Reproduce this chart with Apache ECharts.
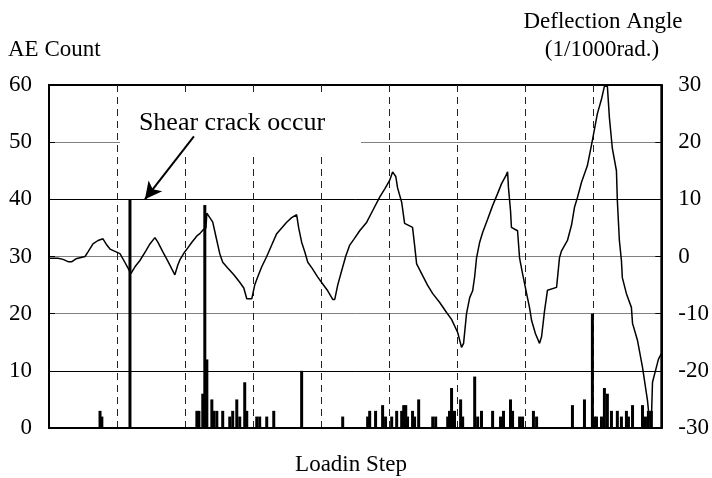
<!DOCTYPE html>
<html>
<head>
<meta charset="utf-8">
<script src="https://cdn.jsdelivr.net/npm/echarts@6/dist/echarts.min.js"></script>
<style>html,body{margin:0;padding:0;background:#fff}#c{width:712px;height:478px}</style>
</head>
<body>
<div id="c"></div>
<script>
// Loading step positions (0..270) and deflection angle values (1/1000 rad)
const angleSteps = [0,4,6.2,8.4,10.1,11.9,15.9,17.2,19.4,21.6,23.8,25.5,26.9,29.1,31.3,33.0,34.8,36.1,37.9,40.1,42.7,44.5,46.7,48.0,50.2,52.4,54.2,55.5,56.8,57.7,59.5,61.2,63.0,65.2,66.5,67.8,69.2,69.6,70.9,72.2,73.6,75.3,76.6,78.8,81.5,84.1,85.9,87.2,89.4,90.7,92.1,93.8,96.0,98.2,100.4,102.6,104.8,107.0,109.2,110.1,111.4,112.8,114.1,115.9,118.5,120.7,122.9,125.1,126.0,127.3,129.1,130.8,132.6,134.4,137.0,140.1,142.7,145.8,148.0,150.2,151.5,152.9,153.7,155.5,156.8,160.3,161.2,162.1,164.3,166.9,169.2,172.2,175.3,177.5,180.2,181.9,182.8,184.1,185.5,186.8,187.7,188.5,189.9,191.2,193.4,195.6,197.8,199.5,201.3,202.2,202.6,203.5,203.9,206.6,207.5,208.8,210.6,211.9,212.8,214.5,216.3,217.2,218.5,219.8,223.8,225.1,226.0,228.6,230.4,231.7,233.0,234.8,237.4,239.6,241.8,243.6,244.9,246.2,247.1,248.4,250.2,250.6,251.5,252.4,252.8,254.6,256.8,257.3,259.5,261.7,263.9,264.7,265.6,266.1,267.4,268.7,270];
const angleValues = [-0.3,-0.3,-0.5,-0.9,-0.9,-0.4,0,0.8,2.2,2.8,3.1,2.0,1.3,0.9,0.5,-0.7,-2.0,-3.0,-1.8,-0.7,1.0,2.2,3.3,2.5,0.8,-0.8,-2.2,-3.2,-1.5,-0.6,0.6,1.5,2.5,3.6,4.0,4.6,5.0,7.6,6.8,6.0,3.5,0.5,-1.0,-2.0,-3.2,-4.5,-5.5,-7.4,-7.4,-5.0,-3.5,-1.8,0.0,2.0,4.0,5.0,6.0,6.8,7.3,5.0,2.5,0.8,-1.0,-2.0,-3.6,-4.8,-6.0,-7.5,-7.5,-5.0,-2.4,0.0,2.0,3.0,4.5,6.0,8.0,10.4,11.8,13.3,14.8,14.0,12.0,9.5,5.8,5.1,2.0,-1.3,-3.0,-5.0,-6.5,-8.0,-9.8,-11.0,-13.3,-15.9,-15.2,-10.0,-7.2,-6.0,-3.5,-0.3,2.5,4.2,6.5,8.9,11.0,12.7,14.0,14.8,12.0,8.0,5.1,4.5,-0.3,-3.0,-6.5,-9.0,-11.2,-13.5,-15.2,-14.0,-9.5,-5.9,-5.4,-0.2,1.0,2.8,5.5,8.6,10.3,13.0,15.9,20.3,25.0,27.5,29.8,29.8,24.3,18.9,15.0,9.8,2.8,-0.7,-3.7,-6.5,-8.9,-11.7,-14.7,-19.4,-25.2,-28.5,-28.8,-22.0,-20.0,-18.0,-17.0];

// AE count bars
const aeSteps = [22.5,23.3,35.7,65.2,66.1,67.8,68.7,69.6,71.8,72.7,74.0,76.6,79.7,81.0,82.8,84.1,86.3,87.2,91.6,92.9,96.0,99.1,111.4,129.5,140.5,141.4,144.0,147.1,148.4,151.1,153.3,155.5,156.4,157.3,158.1,160.3,161.2,163.0,169.2,170.5,175.8,176.6,177.5,178.8,181.5,182.4,187.7,189.0,190.7,195.6,199.1,200.4,203.5,204.4,207.5,208.8,213.6,215.0,230.8,236.1,239.6,240.5,241.4,243.6,244.9,246.2,248.0,250.6,252.4,254.6,255.5,257.3,261.7,263.0,264.3,265.6];
const aeCounts = [3,2,40,3,3,6,39,12,5,3,3,3,2,3,5,2,8,3,2,2,2,3,10,2,2,3,3,4,2,2,3,3,4,4,2,3,2,5,2,2,2,3,7,3,5,2,9,2,3,3,2,3,5,3,2,2,3,2,4,5,20,2,2,2,7,6,3,3,2,3,2,4,4,2,3,3];

const leftTicks = {min: 0, max: 60, interval: 10};
const rightTicks = {min: -30, max: 30, interval: 10};
const stepTicks = {min: 0, max: 270, interval: 30};

const FONT = "'Liberation Serif','Times New Roman',serif";
const chart = echarts.init(document.getElementById('c'), null, {renderer: 'canvas'});

const lineData = angleSteps.map((s, i) => [s, angleValues[i]]);
const barData = aeSteps.map((s, i) => [s, aeCounts[i]]);

chart.setOption({
  animation: false,
  backgroundColor: '#fff',
  grid: {left: 49, right: 50, top: 85, bottom: 50, show: true, borderColor: '#000', borderWidth: 2, backgroundColor: 'transparent'},
  xAxis: {
    type: 'value', min: stepTicks.min, max: stepTicks.max, interval: stepTicks.interval,
    axisLabel: {show: false}, axisTick: {show: false},
    axisLine: {show: true, lineStyle: {color: '#000', width: 2}},
    splitLine: {show: true, lineStyle: {color: '#222', width: 1, type: [7, 5]}}
  },
  yAxis: [
    {
      type: 'value', min: leftTicks.min, max: leftTicks.max, interval: leftTicks.interval, position: 'left',
      axisLine: {show: true, lineStyle: {color: '#000', width: 2}},
      axisTick: {show: true, inside: true, length: 6, lineStyle: {color: '#000'}},
      axisLabel: {color: '#000', fontFamily: FONT, fontSize: 23, margin: 17},
      splitLine: {show: true, lineStyle: {width: 1, color: ['#000', '#000', '#808080', '#808080', '#000', '#808080', '#000']}}
    },
    {
      type: 'value', min: rightTicks.min, max: rightTicks.max, interval: rightTicks.interval, position: 'right',
      axisLine: {show: true, lineStyle: {color: '#000', width: 2}},
      axisTick: {show: true, inside: true, length: 6, lineStyle: {color: '#000'}},
      axisLabel: {color: '#000', fontFamily: FONT, fontSize: 23, margin: 17},
      splitLine: {show: false}
    }
  ],
  graphic: [
    {type: 'rect', z: 1, shape: {x: 120, y: 97, width: 241, height: 55}, style: {fill: '#fff'}},
    {type: 'text', z: 5, style: {text: 'Shear crack occur', x: 232, y: 123, textAlign: 'center', textVerticalAlign: 'middle', font: "26px " + FONT, fill: '#000'}},
    {type: 'text', z: 5, style: {text: 'AE Count', x: 8, y: 50, textAlign: 'left', textVerticalAlign: 'middle', font: "23px " + FONT, fill: '#000'}},
    {type: 'text', z: 5, style: {text: 'Deflection Angle', x: 603, y: 22, textAlign: 'center', textVerticalAlign: 'middle', font: "23px " + FONT, fill: '#000'}},
    {type: 'text', z: 5, style: {text: '(1/1000rad.)', x: 602, y: 50, textAlign: 'center', textVerticalAlign: 'middle', font: "23px " + FONT, fill: '#000'}},
    {type: 'text', z: 5, style: {text: 'Loadin Step', x: 351, y: 465, textAlign: 'center', textVerticalAlign: 'middle', font: "23px " + FONT, fill: '#000'}}
  ],
  series: [
    {
      type: 'bar', yAxisIndex: 0, data: barData, barWidth: 3, itemStyle: {color: '#000'},
      markLine: {
        silent: true, symbol: ['none', 'arrow'], symbolSize: [13, 17],
        lineStyle: {color: '#000', width: 2, type: 'solid'}, label: {show: false},
        data: [[{coord: [63.9, 51.0]}, {coord: [42.3, 40]}]]
      }
    },
    {
      type: 'line', yAxisIndex: 1, data: lineData, showSymbol: false, symbol: 'none',
      lineStyle: {color: '#000', width: 1.5}
    }
  ]
});
</script>
</body>
</html>
